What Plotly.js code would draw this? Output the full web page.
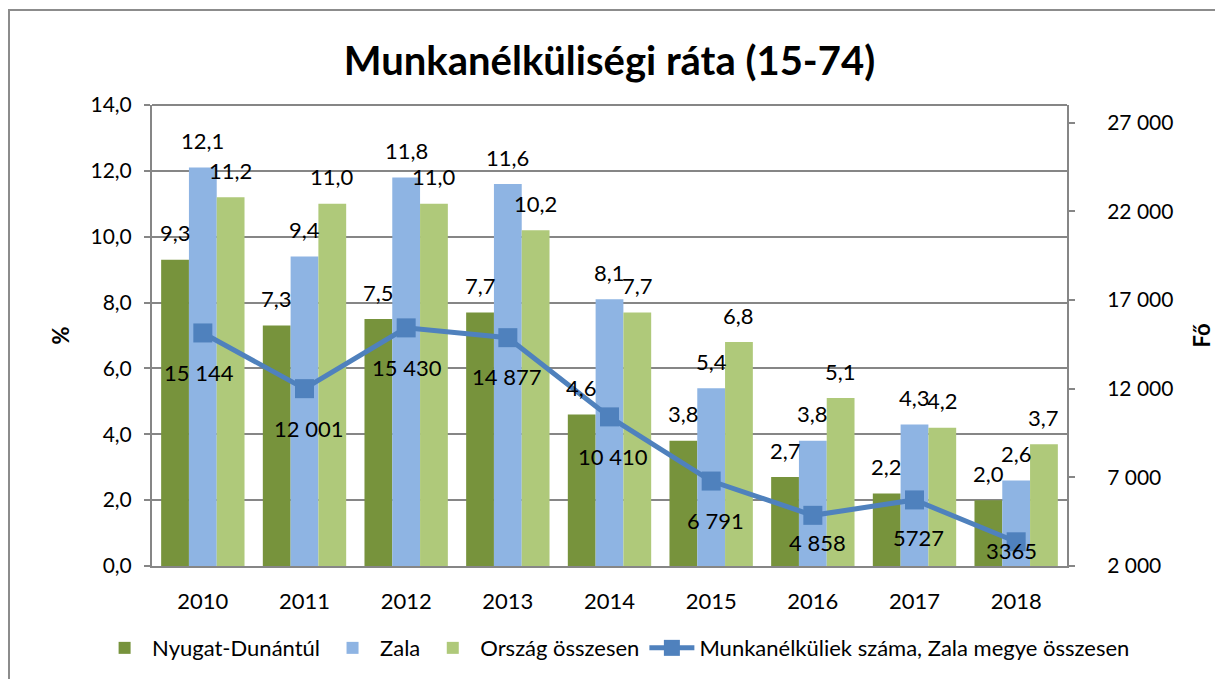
<!DOCTYPE html>
<html>
<head>
<meta charset="utf-8">
<script src="https://cdn.plot.ly/plotly-3.0.1.min.js"></script>
<style>
  html, body { margin: 0; padding: 0; background: #fff; overflow: hidden; }
  #chart { width: 1215px; height: 679px; position: absolute; left: 0; top: 0; }
  #frame { position: absolute; left: 8px; top: 9px; width: 1220px; height: 700px;
           border-left: 2px solid #8c8c8c; border-top: 2px solid #8c8c8c; pointer-events: none; }
</style>
</head>
<body>
<div id="chart"></div>
<div id="frame"></div>
<script>
const years = ['2010','2011','2012','2013','2014','2015','2016','2017','2018'];
const nyugatDunantul = [9.3, 7.3, 7.5, 7.7, 4.6, 3.8, 2.7, 2.2, 2.0];
const zala = [12.1, 9.4, 11.8, 11.6, 8.1, 5.4, 3.8, 4.3, 2.6];
const orszag = [11.2, 11.0, 11.0, 10.2, 7.7, 6.8, 5.1, 4.2, 3.7];
const munkanelkuliek = [15144, 12001, 15430, 14877, 10410, 6791, 4858, 5727, 3365];
const munkanelkuliekLabels = ['15 144','12 001','15 430','14 877','10 410','6 791','4 858','5727','3365'];
const leftTicks = [0, 2, 4, 6, 8, 10, 12, 14];
const rightTicks = [2000, 7000, 12000, 17000, 22000, 27000];
const rightTickLabels = ['2 000','7 000','12 000','17 000','22 000','27 000'];

const FONT = 'Lato, "Open Sans", sans-serif';
const cOlive = '#77933C', cBlue = '#8EB4E3', cGreen = '#AFC97A', cLine = '#4F81BD';

const fmt = v => v.toFixed(1).replace('.', ',');

const traces = [
  {type:'bar', name:'Nyugat-Dunántúl', x: years, y: nyugatDunantul, marker:{color:cOlive}, hoverinfo:'skip'},
  {type:'bar', name:'Zala', x: years, y: zala, marker:{color:cBlue}, hoverinfo:'skip'},
  {type:'bar', name:'Ország összesen', x: years, y: orszag, marker:{color:cGreen}, hoverinfo:'skip'},
  {type:'scatter', mode:'lines+markers', name:'Munkanélküliek száma, Zala megye összesen',
   x: years, y: munkanelkuliek, yaxis:'y2',
   line:{color:cLine, width:5}, marker:{symbol:'square', size:19, color:cLine}, hoverinfo:'skip'}
];

const barW = 0.272;
const annotations = [];
[[nyugatDunantul,-barW],[zala,0],[orszag,barW]].forEach(([arr, off]) => {
  arr.forEach((v, i) => {
    annotations.push({x: i + off, y: v, xref:'x', yref:'y', text: fmt(v), showarrow:false,
      yshift: 27, font:{family:FONT, size:22, color:'#000'}});
  });
});
const lineLabelShift = [-40, -40, -40, -39, -40, -39, -27, -38, -9];
const lineLabelXShift = [-4, 4, 1, -1, 3, 4, 5, 4, -5];
munkanelkuliek.forEach((v, i) => {
  annotations.push({x: i, y: v, xref:'x', yref:'y2', text: munkanelkuliekLabels[i], showarrow:false,
    yshift: lineLabelShift[i], xshift: lineLabelXShift[i], font:{family:FONT, size:22, color:'#000'}});
});

const layout = {
  width:1215, height:679,
  margin:{l:152, r:148, t:105, b:113, pad:0, autoexpand:false},
  paper_bgcolor:'#fff', plot_bgcolor:'#fff',
  font:{family:FONT, size:20, color:'#000'},
  title:{text:'<b>Munkanélküliségi ráta (15-74)</b>', font:{family:FONT, size:40, color:'#000'},
         x:0.5, xanchor:'center', y:0.91, yanchor:'middle', xref:'paper'},
  barmode:'group', bargap:0.18, bargroupgap:0,
  showlegend:true,
  legend:{orientation:'h', x:-0.06, xanchor:'left', y:-0.178, yanchor:'middle',
          font:{family:FONT, size:22}, itemwidth:45, traceorder:'normal'},
  xaxis:{type:'category', showline:true, linecolor:'#868686', linewidth:2, mirror:false,
         ticks:'', tickfont:{family:FONT, size:22}, showgrid:false, zeroline:false,
         range:[-0.5, 8.5], ticklabelstandoff:15},
  yaxis:{range:[0,14], tickvals:leftTicks, ticktext:leftTicks.map(fmt), ticks:'outside', ticklen:6,
         tickcolor:'#868686', tickwidth:2, showgrid:true, gridcolor:'#868686', gridwidth:2,
         showline:true, linecolor:'#868686', linewidth:2, zeroline:false,
         tickfont:{family:FONT, size:21}, ticklabelstandoff:8,
         title:{text:'<b>%</b>', font:{family:FONT, size:22}, standoff:15}},
  yaxis2:{overlaying:'y', side:'right', range:[2000,28000], tickvals:rightTicks, ticktext:rightTickLabels,
          ticks:'outside', ticklen:6, tickcolor:'#868686', tickwidth:2, showgrid:false,
          showline:true, linecolor:'#868686', linewidth:2, zeroline:false,
          tickfont:{family:FONT, size:21}, ticklabelstandoff:28,
          title:{text:'<b>Fő</b>', font:{family:FONT, size:22}, standoff:40}},
  shapes:[{type:'line', xref:'paper', yref:'paper', x0:0, x1:1, y0:1, y1:1, line:{color:'#868686', width:2}}],
  annotations: annotations
};

Plotly.newPlot('chart', traces, layout, {displayModeBar:false, staticPlot:true});
</script>
</body>
</html>
